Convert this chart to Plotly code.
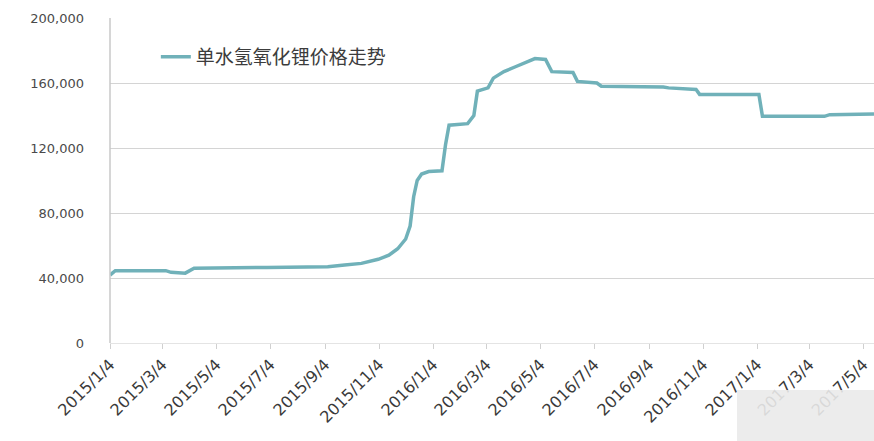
import plotly.graph_objects as go

# Monohydrate lithium hydroxide price
dates = [
    "2015-01-04", "2015-01-10", "2015-03-08", "2015-03-14", "2015-03-30",
    "2015-04-09", "2015-06-30", "2015-09-07", "2015-09-26", "2015-10-15",
    "2015-11-03", "2015-11-15", "2015-11-25", "2015-12-04", "2015-12-09",
    "2015-12-13", "2015-12-17", "2015-12-22", "2015-12-30", "2016-01-14",
    "2016-01-18", "2016-01-22", "2016-02-12", "2016-02-19", "2016-02-23",
    "2016-03-06", "2016-03-12", "2016-03-24", "2016-04-06", "2016-04-18",
    "2016-04-28", "2016-05-10", "2016-05-17", "2016-06-10", "2016-06-15",
    "2016-07-07", "2016-07-12", "2016-09-20", "2016-09-26", "2016-10-27",
    "2016-10-31", "2017-01-06", "2017-01-10", "2017-03-21", "2017-03-27",
    "2017-05-16",
]
prices = [
    41800, 44500, 44500, 43500, 43000,
    46000, 46500, 47000, 48000, 49000,
    51500, 54000, 58000, 64000, 72000,
    90000, 100000, 104000, 105500, 106000,
    122000, 134000, 135000, 140000, 155000,
    157000, 163000, 167000, 170000, 173000,
    175000, 174500, 167000, 166500, 161000,
    160000, 158000, 157500, 157000, 156000,
    153000, 153000, 139500, 139500, 140500,
    141000,
]

series_name = "单水氢氧化锂价格走势"

tick_dates = [
    "2015-01-04", "2015-03-04", "2015-05-04", "2015-07-04", "2015-09-04",
    "2015-11-04", "2016-01-04", "2016-03-04", "2016-05-04", "2016-07-04",
    "2016-09-04", "2016-11-04", "2017-01-04", "2017-03-04", "2017-05-04",
]
tick_labels = [
    "2015/1/4", "2015/3/4", "2015/5/4", "2015/7/4", "2015/9/4",
    "2015/11/4", "2016/1/4", "2016/3/4", "2016/5/4", "2016/7/4",
    "2016/9/4", "2016/11/4", "2017/1/4", "2017/3/4", "2017/5/4",
]
y_ticks = [0, 40000, 80000, 120000, 160000, 200000]
y_labels = ["0", "40,000", "80,000", "120,000", "160,000", "200,000"]

line_color = "#70b1b9"

fig = go.Figure()
fig.add_trace(go.Scatter(
    x=dates, y=prices, name=series_name,
    mode="lines", line=dict(color=line_color, width=3.5),
    showlegend=True,
))

fig.update_layout(
    width=874, height=441,
    margin=dict(l=110, r=0, t=18, b=98),
    paper_bgcolor="white", plot_bgcolor="white",
    font=dict(family="Noto Sans CJK SC, Noto Sans, sans-serif", color="#4d4d4d"),
    showlegend=True,
    legend=dict(
        x=0.06, y=0.88, xanchor="left", yanchor="middle",
        bgcolor="rgba(0,0,0,0)",
        font=dict(size=19, color="#3c3c3c", family="Noto Sans CJK SC"),
    ),
    xaxis=dict(
        type="date",
        range=["2015-01-04", "2017-05-16"],
        tickvals=tick_dates, ticktext=tick_labels,
        tickangle=-45,
        tickfont=dict(size=16, color="#3a3a3a", family="DejaVu Sans"),
        showgrid=False,
        showline=False,
        ticks="outside", ticklen=5, tickcolor="#d0d0d0",
        zeroline=False,
    ),
    yaxis=dict(
        range=[0, 200000],
        tickvals=y_ticks, ticktext=y_labels,
        tickfont=dict(size=13, color="#4a4a4a", family="DejaVu Sans"),
        showgrid=True, gridcolor="#d4d4d4", gridwidth=1.2,
        showline=False,
        ticks="", ticklabelstandoff=25,
        zeroline=True, zerolinecolor="#e4e4e4", zerolinewidth=1,
    ),
)

# left axis line (Excel style)
fig.add_shape(type="line", xref="paper", yref="paper", x0=0, x1=0, y0=0, y1=1,
              line=dict(color="#c8c8c8", width=1.5))

# light grey blur patch in the lower-right corner of the source image
fig.add_shape(type="rect", xref="paper", yref="paper", layer="above",
              x0=(737 - 110) / 764, x1=1.0, y0=-(390 - 343) / 325, y1=-(441 - 343) / 325,
              fillcolor="rgba(234,234,234,0.9)", line=dict(width=0))

fig.write_html("out.html")
